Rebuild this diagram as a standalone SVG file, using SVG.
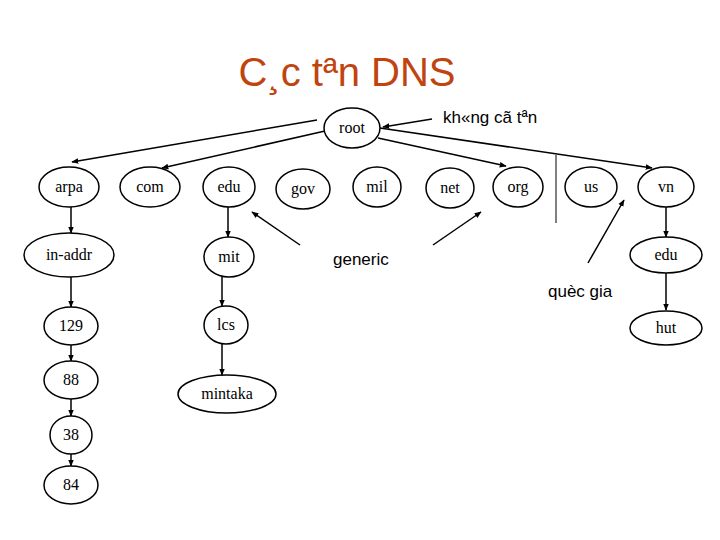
<svg xmlns="http://www.w3.org/2000/svg" width="720" height="540" viewBox="0 0 720 540">
<style>
.n ellipse{fill:#fff;stroke:#000;stroke-width:1.5}
.n text{font-family:"Liberation Serif",serif;font-size:16px;text-anchor:middle}
.e line{stroke:#000;stroke-width:1.5;marker-end:url(#a)}
.s{font-family:"Liberation Sans",sans-serif;font-size:17px}
</style>
<defs><marker id="a" viewBox="0 0 10 10" refX="9" refY="5" markerWidth="7" markerHeight="7" orient="auto" markerUnits="userSpaceOnUse"><path d="M0,1L10,5L0,9z"/></marker></defs>
<rect width="720" height="540" fill="#fff"/>
<text x="347" y="86" text-anchor="middle" font-family="Liberation Sans,sans-serif" font-size="40" fill="#C0440F">C¸c tªn DNS</text>
<g class="e">
<line x1="317" y1="120" x2="72" y2="162"/>
<line x1="325" y1="131" x2="162" y2="168"/>
<line x1="378" y1="138" x2="506" y2="166"/>
<line x1="380" y1="128" x2="652" y2="168"/>
<line x1="432" y1="119" x2="383" y2="127"/>
<line x1="300" y1="245" x2="252" y2="212"/>
<line x1="433" y1="245" x2="481" y2="212"/>
<line x1="588" y1="263" x2="624" y2="200"/>
<line x1="71" y1="207" x2="71" y2="233"/>
<line x1="71" y1="277" x2="71" y2="307"/>
<line x1="71" y1="345" x2="71" y2="361"/>
<line x1="71" y1="399" x2="71" y2="416"/>
<line x1="71" y1="454" x2="71" y2="466"/>
<line x1="228" y1="206" x2="228" y2="237"/>
<line x1="222" y1="276" x2="222" y2="306"/>
<line x1="222" y1="344" x2="222" y2="375"/>
<line x1="666" y1="207" x2="666" y2="237"/>
<line x1="666" y1="273" x2="666" y2="310"/>
<line x1="556" y1="155" x2="556" y2="223" style="marker-end:none;stroke-width:1"/>
</g>
<g id="root" class="n"><ellipse cx="352" cy="128" rx="28" ry="20"/><text x="352" y="133">root</text></g>
<g id="arpa" class="n"><ellipse cx="69" cy="187" rx="30" ry="20"/><text x="69" y="192">arpa</text></g>
<g id="com" class="n"><ellipse cx="150" cy="187" rx="30" ry="20"/><text x="150" y="192">com</text></g>
<g id="edu" class="n"><ellipse cx="229" cy="187" rx="26" ry="20"/><text x="229" y="192">edu</text></g>
<g id="gov" class="n"><ellipse cx="303" cy="189" rx="27" ry="20"/><text x="303" y="194">gov</text></g>
<g id="mil" class="n"><ellipse cx="377" cy="187" rx="24" ry="20"/><text x="377" y="192">mil</text></g>
<g id="net" class="n"><ellipse cx="450" cy="188" rx="24" ry="20"/><text x="450" y="193">net</text></g>
<g id="org" class="n"><ellipse cx="518" cy="187" rx="25" ry="20"/><text x="518" y="192">org</text></g>
<g id="us" class="n"><ellipse cx="591" cy="187" rx="26" ry="20"/><text x="591" y="192">us</text></g>
<g id="vn" class="n"><ellipse cx="666" cy="187" rx="28" ry="20"/><text x="666" y="192">vn</text></g>
<g id="in-addr" class="n"><ellipse cx="69" cy="255" rx="45" ry="22"/><text x="69" y="260">in-addr</text></g>
<g id="mit" class="n"><ellipse cx="229" cy="257" rx="25" ry="20"/><text x="229" y="262">mit</text></g>
<g id="vn-edu" class="n"><ellipse cx="666" cy="255" rx="36" ry="18"/><text x="666" y="260">edu</text></g>
<g id="n129" class="n"><ellipse cx="71" cy="326" rx="27" ry="19"/><text x="71" y="331">129</text></g>
<g id="n88" class="n"><ellipse cx="71" cy="380" rx="27" ry="19"/><text x="71" y="385">88</text></g>
<g id="n38" class="n"><ellipse cx="71" cy="435" rx="21" ry="19"/><text x="71" y="440">38</text></g>
<g id="n84" class="n"><ellipse cx="71" cy="485" rx="27" ry="19"/><text x="71" y="490">84</text></g>
<g id="lcs" class="n"><ellipse cx="226" cy="325" rx="22" ry="19"/><text x="226" y="330">lcs</text></g>
<g id="mintaka" class="n"><ellipse cx="227" cy="394" rx="49" ry="19"/><text x="227" y="399">mintaka</text></g>
<g id="hut" class="n"><ellipse cx="666" cy="328" rx="36" ry="17"/><text x="666" y="333">hut</text></g>
<text class="s" x="443" y="123">kh«ng cã tªn</text>
<text class="s" x="333" y="265">generic</text>
<text class="s" x="548" y="297">quèc gia</text>
</svg>
